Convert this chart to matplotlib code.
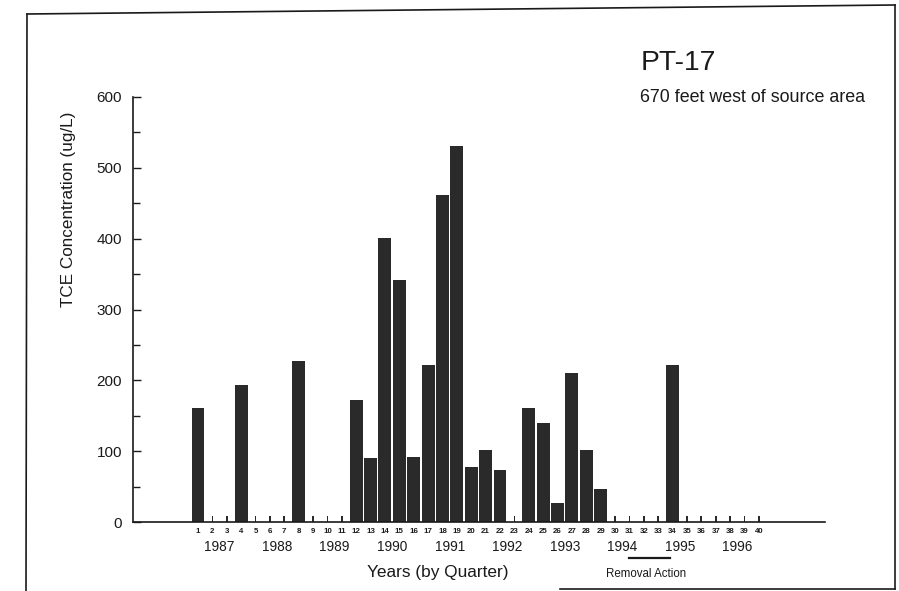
import matplotlib
matplotlib.use("Agg")
import matplotlib.pyplot as plt
from matplotlib.lines import Line2D
import numpy as np

plt.rcParams['font.family'] = ['Liberation Sans', 'DejaVu Sans']

# ---- data ----
quarters = list(range(1, 41))
# TCE concentration (ug/L) by quarter; small values (8) are the tiny marks (non-detect level)
conc = [161, 8, 8, 193, 8, 8, 8, 227, 8, 8,
        8, 172, 91, 401, 342, 92, 221, 462, 531, 77,
        101, 73, 8, 161, 140, 27, 211, 101, 47, 8,
        8, 8, 8, 222, 8, 8, 8, 8, 8, 8]
years = ['1987', '1988', '1989', '1990', '1991', '1992', '1993', '1994', '1995', '1996']
removal_span = [31.0, 33.8]
title = 'PT-17'
subtitle = '670 feet west of source area'

W, H = 899, 591
fig = plt.figure(figsize=(W / 100, H / 100), dpi=100)
fx = lambda x: x / W
fy = lambda y: 1 - y / H

ax = fig.add_axes([fx(133), fy(522), (825 - 133) / W, (522 - 97) / H])

conc_arr = np.array(conc, dtype=float)
widths = np.where(conc_arr >= 10, 0.9, 0.12)
ax.bar(quarters, conc_arr, width=widths, color='#2a2a2a', edgecolor='none')

ax.set_xlim(-3.52, 44.6)
ax.set_ylim(0, 600)

for s in ['top', 'right']:
    ax.spines[s].set_visible(False)
for s in ['left', 'bottom']:
    ax.spines[s].set_linewidth(1.2)
    ax.spines[s].set_color('#1a1a1a')

ax.set_yticks(range(0, 601, 100))
ax.set_yticks(range(50, 600, 100), minor=True)
ax.tick_params(axis='y', which='both', direction='in', width=1.0, pad=8,
               labelsize=11, colors='#1a1a1a')
ax.tick_params(axis='y', which='major', length=6)
ax.tick_params(axis='y', which='minor', length=5)

ax.set_xticks(quarters)
ax.set_xticklabels([str(q) for q in quarters], fontsize=5.7, fontweight='bold')
ax.tick_params(axis='x', length=0, pad=4, colors='#1a1a1a')

xt = ax.get_xaxis_transform()
for i, yr in enumerate(years):
    ax.text(4 * i + 2.5, (522 - 547) / 425, yr, transform=xt, ha='center', va='center',
            fontsize=9.8, color='#1a1a1a')

ax.plot(removal_span, [(522 - 558) / 425] * 2, transform=xt, color='#1a1a1a',
        lw=1.6, clip_on=False)
ax.text(sum(removal_span) / 2 - 0.25, (522 - 574) / 425, 'Removal Action', transform=xt,
        ha='center', va='center', fontsize=8.3, color='#1a1a1a')

fig.text(fx(438), fy(572), 'Years (by Quarter)', ha='center', va='center',
         fontsize=12.4, color='#1a1a1a')
fig.text(fx(69), fy(209), 'TCE Concentration (ug/L)', rotation=90, ha='center',
         va='center', fontsize=12.3, color='#1a1a1a')
fig.text(fx(641), fy(70), title, ha='left', va='baseline', fontsize=20.3, color='#1a1a1a')
fig.text(fx(640), fy(97), subtitle, ha='left', va='center', fontsize=12.9, color='#1a1a1a')

# page frame
frame = [([27, 895], [14, 5]), ([27, 26], [14, 591]), ([895, 895], [5, 589]),
         ([560, 895], [589, 589])]
for xs, ys in frame:
    fig.add_artist(Line2D([fx(v) for v in xs], [fy(v) for v in ys], color='#1a1a1a', lw=1.2))

fig.savefig('out.png', dpi=100)
